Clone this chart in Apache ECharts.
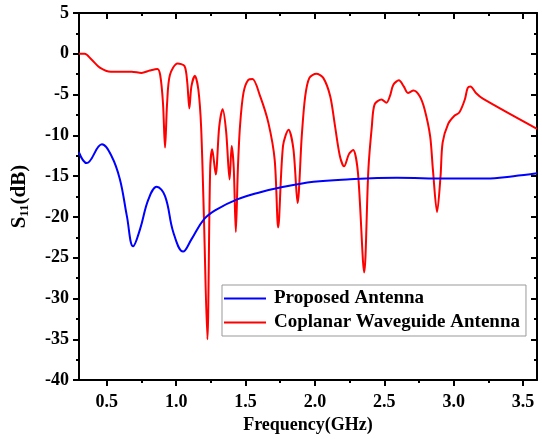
<!DOCTYPE html>
<html>
<head>
<meta charset="utf-8">
<script src="https://cdn.jsdelivr.net/npm/echarts@6/dist/echarts.min.js"></script>
<style>html,body{margin:0;padding:0;background:#fff;}#c{width:542px;height:439px;}</style>
</head>
<body>
<div id="c"></div>
<script>
const seriesNames = ['Proposed Antenna', 'Coplanar Waveguide Antenna'];
const xMajorTicks = [0.5, 1.0, 1.5, 2.0, 2.5, 3.0, 3.5];
const xMinorTicks = [0.75, 1.25, 1.75, 2.25, 2.75, 3.25];

const blueFreq = [0.30, 0.355, 0.465, 0.535, 0.595, 0.645, 0.69, 0.74, 0.80, 0.86, 0.92, 0.98, 1.05, 1.11, 1.20, 1.29, 1.44, 1.60, 1.75, 1.99, 2.23, 2.59, 2.95, 3.235, 3.43, 3.60];
const blueS11  = [-12.1, -13.4, -11.1, -12.55, -15.4, -19.9, -23.6, -21.5, -17.85, -16.3, -17.45, -21.9, -24.25, -22.75, -20.3, -19.1, -17.85, -17.0, -16.4, -15.7, -15.4, -15.2, -15.3, -15.3, -15.0, -14.65];

const redFreq = [0.30, 0.34, 0.39, 0.45, 0.53, 0.68, 0.75, 0.81, 0.865, 0.885, 0.905, 0.92, 0.935, 0.955, 1.01, 1.06, 1.08, 1.095, 1.11, 1.135, 1.16, 1.18, 1.20, 1.225, 1.245, 1.26, 1.285, 1.31, 1.335, 1.36, 1.385, 1.40, 1.415, 1.43, 1.445, 1.46, 1.485, 1.52, 1.55, 1.605, 1.665, 1.71, 1.735, 1.77, 1.81, 1.845, 1.875, 1.905, 1.93, 1.96, 2.01, 2.06, 2.11, 2.145, 2.18, 2.21, 2.245, 2.275, 2.31, 2.355, 2.385, 2.41, 2.43, 2.48, 2.515, 2.54, 2.565, 2.605, 2.64, 2.67, 2.71, 2.755, 2.79, 2.83, 2.85, 2.88, 2.905, 2.92, 2.96, 3.005, 3.04, 3.08, 3.10, 3.12, 3.16, 3.21, 3.60];
const redS11  = [0, 0, -0.7, -1.7, -2.2, -2.2, -2.35, -2.05, -1.85, -2.6, -6, -11.5, -6, -2.6, -1.2, -1.5, -3.5, -6.7, -4, -2.7, -4.4, -9, -20, -35, -14.2, -11.7, -14.8, -9, -6.8, -9.5, -15.4, -11.3, -14, -21.85, -14, -8.9, -4.8, -3.2, -3.1, -5.2, -8.5, -13, -21.3, -11.3, -9.3, -11.7, -18.3, -10.1, -5.2, -2.95, -2.45, -2.95, -5.2, -8.9, -12.55, -13.8, -12.3, -11.8, -14.6, -26.8, -14.2, -8.9, -6.2, -5.6, -6.0, -5.2, -3.8, -3.25, -4.0, -4.8, -4.5, -5.2, -6.8, -10.1, -14.2, -19.4, -15, -10.9, -8.6, -7.6, -7.2, -5.6, -4.2, -4.0, -4.8, -5.5, -9.2];

const FONT = '"Liberation Serif", "Times New Roman", serif';
const zip = (a, b) => a.map((v, i) => [v, b[i]]);

const chart = echarts.init(document.getElementById('c'), null, {renderer: 'canvas'});
const axisLine = {show: true, onZero: false, lineStyle: {color: '#000', width: 2}};
const noLine = {show: false, onZero: false};
const xBase = {type: 'value', min: 0.3, max: 3.6, splitLine: {show: false}};
const tickStyle = {color: '#000', width: 2};
chart.setOption({
  animation: false,
  backgroundColor: '#fff',
  grid: {left: 79, right: 5, top: 13, bottom: 58, containLabel: false},
  legend: {
    data: seriesNames,
    orient: 'vertical',
    left: 222, top: 285,
    padding: [4, 6, 4, 2],
    itemGap: 5,
    itemWidth: 42, itemHeight: 2,
    icon: 'rect',
    borderColor: '#999', borderWidth: 1,
    backgroundColor: '#fff',
    textStyle: {fontFamily: FONT, fontWeight: 'bold', fontSize: 19, color: '#000', padding: [0, 0, 0, 3]}
  },
  xAxis: [
    Object.assign({}, xBase, {
      position: 'bottom',
      name: 'Frequency(GHz)', nameLocation: 'middle', nameGap: 31,
      nameTextStyle: {fontFamily: FONT, fontWeight: 'bold', fontSize: 18, color: '#000'},
      axisLine: axisLine,
      axisTick: {show: true, inside: false, length: 6, lineStyle: tickStyle, customValues: xMajorTicks},
      axisLabel: {show: true, customValues: xMajorTicks, formatter: v => v.toFixed(1), fontFamily: FONT, fontWeight: 'bold', fontSize: 18, color: '#000', margin: 13}
    }),
    Object.assign({}, xBase, {
      position: 'bottom',
      axisLine: noLine,
      axisTick: {show: true, inside: false, length: 3, lineStyle: tickStyle, customValues: xMinorTicks},
      axisLabel: {show: false}
    }),
    Object.assign({}, xBase, {
      position: 'top',
      axisLine: axisLine,
      axisTick: {show: true, inside: true, length: 6, lineStyle: tickStyle, customValues: xMajorTicks},
      axisLabel: {show: false}
    }),
    Object.assign({}, xBase, {
      position: 'top',
      axisLine: noLine,
      axisTick: {show: true, inside: true, length: 3, lineStyle: tickStyle, customValues: xMinorTicks},
      axisLabel: {show: false}
    })
  ],
  yAxis: [
    {
      type: 'value', min: -40, max: 5, interval: 5, position: 'left',
      name: 'S{sub|11}(dB)', nameLocation: 'middle', nameGap: 48, nameRotate: 90,
      nameTextStyle: {fontFamily: FONT, fontWeight: 'bold', fontSize: 21, color: '#000',
        rich: {sub: {fontFamily: FONT, fontWeight: 'bold', fontSize: 13, color: '#000', verticalAlign: 'bottom', padding: [9, 0, 0, 0]}}},
      axisLine: axisLine,
      splitLine: {show: false},
      axisTick: {show: true, inside: false, length: 6, lineStyle: tickStyle},
      minorTick: {show: true, splitNumber: 2, length: 3, lineStyle: tickStyle},
      axisLabel: {fontFamily: FONT, fontWeight: 'bold', fontSize: 18, color: '#000', margin: 10}
    },
    {
      type: 'value', min: -40, max: 5, interval: 5, position: 'right',
      axisLine: axisLine,
      splitLine: {show: false},
      axisTick: {show: true, inside: true, length: 6, lineStyle: tickStyle},
      minorTick: {show: true, splitNumber: 2, length: 3, lineStyle: tickStyle},
      axisLabel: {show: false}
    }
  ],
  series: [
    {name: seriesNames[0], type: 'line', data: zip(blueFreq, blueS11), showSymbol: false, smooth: 0.4,
     lineStyle: {color: '#0000ff', width: 2}, itemStyle: {color: '#0000ff'}, z: 3},
    {name: seriesNames[1], type: 'line', data: zip(redFreq, redS11), showSymbol: false, smooth: 0.3,
     lineStyle: {color: '#ff0000', width: 2}, itemStyle: {color: '#ff0000'}, z: 2}
  ]
});
</script>
</body>
</html>
